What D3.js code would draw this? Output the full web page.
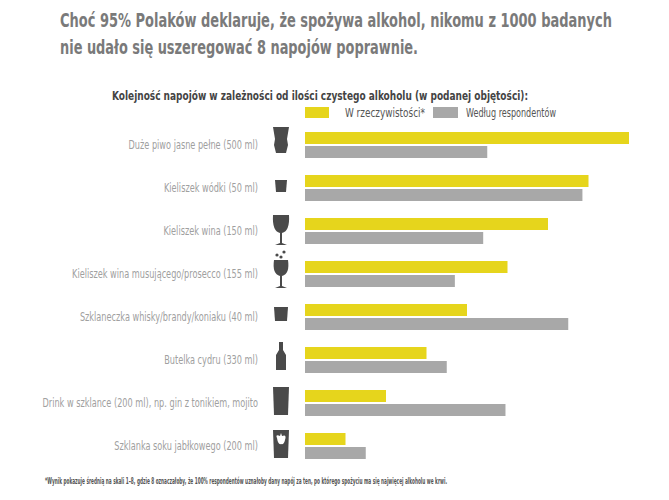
<!DOCTYPE html><html><head><meta charset="utf-8"><script src="https://cdn.jsdelivr.net/npm/d3@7"></script>
<style>body{margin:0;background:#fff}svg text{font-family:"DejaVu Sans",sans-serif}</style></head><body><svg width="669" height="500"></svg>
<script>
const categories=["Duże piwo jasne pełne (500 ml)","Kieliszek wódki (50 ml)","Kieliszek wina (150 ml)","Kieliszek wina musującego/prosecco (155 ml)","Szklaneczka whisky/brandy/koniaku (40 ml)","Butelka cydru (330 ml)","Drink w szklance (200 ml), np. gin z tonikiem, mojito","Szklanka soku jabłkowego (200 ml)"];
const actual=[8,7,6,5,4,3,2,1];
const respondents=[4.5,6.85,4.4,3.7,6.5,3.5,4.95,1.5];
const icons=["beer","shot","wine","fizz","tumbler","bottle","highball","apple"];
const svg=d3.select("svg");
const x=d3.scaleLinear().domain([0,8]).range([305,629]);
const y=d3.scaleBand().domain(categories).range([131,475]).paddingInner(0);
const Y="#e6d51c",G="#a8a8a8",IC="#4a4a4a";
function cond(sel,f){sel.each(function(){const w=this.getComputedTextLength();d3.select(this).attr("textLength",w*f).attr("lengthAdjust","spacingAndGlyphs");});}
function fit(sel,w){sel.attr("textLength",w).attr("lengthAdjust","spacingAndGlyphs");}
svg.append("text").attr("x",60).attr("y",27).attr("font-size",20).attr("font-weight","bold").attr("fill","#7a7a7a").text("Choć 95% Polaków deklaruje, że spożywa alkohol, nikomu z 1000 badanych").call(fit,552);
svg.append("text").attr("x",60).attr("y",54).attr("font-size",20).attr("font-weight","bold").attr("fill","#7a7a7a").text("nie udało się uszeregować 8 napojów poprawnie.").call(fit,358);
svg.append("text").attr("x",112).attr("y",100).attr("font-size",12).attr("font-weight","bold").attr("fill","#444").text("Kolejność napojów w zależności od ilości czystego alkoholu (w podanej objętości):").call(fit,416);
svg.append("rect").attr("x",305).attr("y",107).attr("width",24).attr("height",11).attr("fill",Y);
svg.append("text").attr("x",345).attr("y",117).attr("font-size",12).attr("fill","#555").text("W rzeczywistości*").call(fit,80);
svg.append("rect").attr("x",433).attr("y",107).attr("width",25).attr("height",11).attr("fill",G);
svg.append("text").attr("x",466).attr("y",117).attr("font-size",12).attr("fill","#555").text("Według respondentów").call(fit,90);
const g=svg.selectAll("g.row").data(categories).join("g").attr("class","row").attr("transform",d=>`translate(0,${y(d)})`);
g.append("rect").attr("x",x(0)).attr("y",1).attr("height",12).attr("width",(d,i)=>x(actual[i])-x(0)).attr("fill",Y);
g.append("rect").attr("x",x(0)).attr("y",15).attr("height",12).attr("width",(d,i)=>x(respondents[i])-x(0)).attr("fill",G);
g.append("text").attr("x",258).attr("y",18).attr("text-anchor","end").attr("font-size",12).attr("fill","#a0a0a0").text(d=>d).call(cond,0.68);
const paths={
beer:"M-8,-4 L8,-4 L6,8 L7,14 L5,22 L-5,22 L-7,14 L-6,8 Z",
shot:"M-6,6 L6,6 L5,18 L-5,18 Z",
wine:"M-8,-2 L8,-2 Q9,14 1,16 L1,26 L6,28 L-6,28 L-1,26 L-1,16 Q-9,14 -8,-2 Z",
fizz:"M-7,0 L7,0 Q9,14 1,16 L1,26 L6,28 L-6,28 L-1,26 L-1,16 Q-9,14 -7,0 Z",
tumbler:"M-7,4 L7,4 L6,18 L-6,18 Z",
bottle:"M-2,-4 L2,-4 L2,4 L5,9 L5,24 L-5,24 L-5,9 L-2,4 Z",
highball:"M-8,-2 L8,-2 L7,26 L-7,26 Z",
apple:"M-8,-2 L8,-2 L7,26 L-7,26 Z"};
g.append("path").attr("transform","translate(281,0)").attr("d",(d,i)=>paths[icons[i]]).attr("fill",IC);
g.filter((d,i)=>icons[i]==="apple").append("path").attr("transform","translate(281,0)").attr("d","M-4,6 Q-6,2 -1,4 L0,1 L1,4 Q6,2 4,8 Q3,13 0,12 Q-3,13 -4,6 Z").attr("fill","#fff");
g.filter((d,i)=>icons[i]==="fizz").append("g").selectAll("circle").data([[-4,-5],[3,-8],[0,-3]]).join("circle").attr("cx",d=>281+d[0]).attr("cy",d=>d[1]).attr("r",1.6).attr("fill",IC);
svg.append("text").attr("x",45).attr("y",484).attr("font-size",8).attr("font-weight","bold").attr("fill","#555").text("*Wynik pokazuje średnią na skali 1–8, gdzie 8 oznaczałoby, że 100% respondentów uznałoby dany napój za ten, po którego spożyciu ma się najwięcej alkoholu we krwi.").call(fit,402);
</script></body></html>
